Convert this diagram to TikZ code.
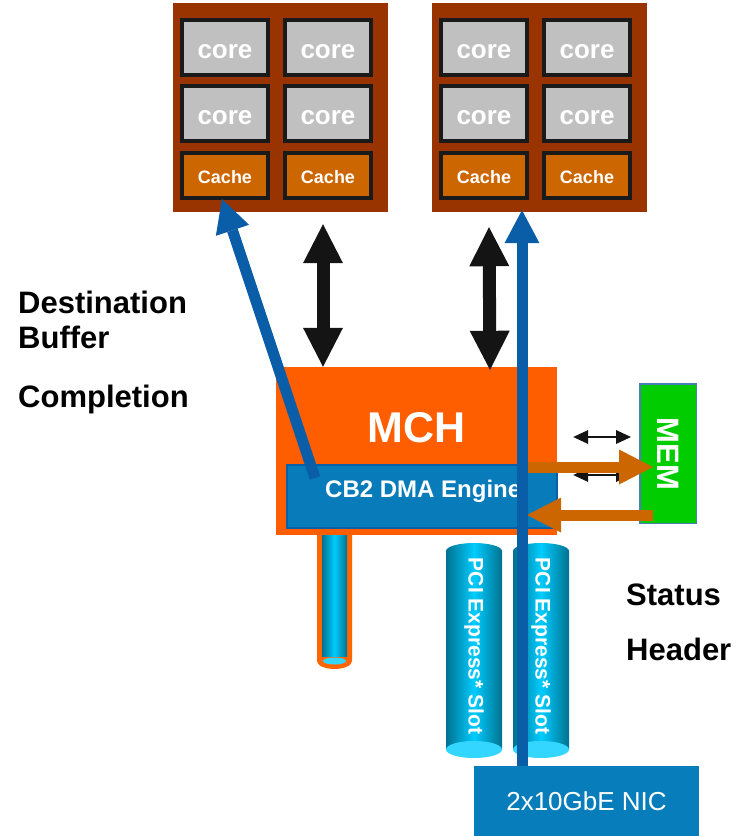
\documentclass[tikz,border=0pt]{standalone}
\usepackage{fontspec}
\setmainfont{Liberation Sans}
\usetikzlibrary{arrows.meta,calc}

\definecolor{pkgbrown}{HTML}{993300}
\definecolor{coregray}{HTML}{C0C0C0}
\definecolor{coreedge}{HTML}{1A1A1A}
\definecolor{cacheorange}{HTML}{CC6600}
\definecolor{mchorange}{HTML}{FF5E00}
\definecolor{dmablue}{HTML}{087CBA}
\definecolor{dmaedge}{HTML}{0A5FA8}
\definecolor{flowblue}{HTML}{0A5EA8}
\definecolor{memgreen}{HTML}{00CC00}
\definecolor{memedge}{HTML}{4A7EBB}
\definecolor{nicblue}{HTML}{087DBB}
\definecolor{tealdk}{HTML}{00728F}
\definecolor{cyanhi}{HTML}{00CCFF}
\definecolor{capcyan}{HTML}{33D6FF}
\definecolor{pipeorange}{HTML}{FF6600}
\definecolor{arrowblack}{HTML}{141414}

\newcommand\setfs[1]{\fontsize{#1}{#1}\selectfont}

\begin{document}
\begin{tikzpicture}[x=1pt,y=-1pt,
  pkg/.style={fill=pkgbrown, minimum width=215pt, minimum height=209pt, inner sep=0pt},
  corebox/.style={fill=coregray, draw=coreedge, line width=4pt, minimum width=86pt,
    minimum height=55pt, inner sep=0pt, text=white, font=\setfs{26}\bfseries,
    text height=21pt, text depth=0pt},
  cachebox/.style={corebox, fill=cacheorange, minimum height=45pt, font=\setfs{18}\bfseries,
    text height=16pt, text depth=0pt},
  sidelabel/.style={anchor=base west, inner sep=0pt, font=\setfs{31}\bfseries, text=black},
  slotlabel/.style={rotate=-90, inner sep=0pt, text=white, font=\setfs{21}\bfseries},
  bigdbl/.style={draw=arrowblack, line width=13pt,
    {Triangle[length=39pt,width=40pt,line width=0pt]}-{Triangle[length=39pt,width=40pt,line width=0pt]}},
  smalldbl/.style={draw=arrowblack, line width=2pt,
    {Triangle[length=15pt,width=14pt,line width=0pt]}-{Triangle[length=15pt,width=14pt,line width=0pt]}},
  bluearrow/.style={draw=flowblue, line width=11pt, -{Triangle[length=33pt,width=35pt,line width=0pt]}},
  orangearrow/.style={draw=cacheorange, line width=11pt, -{Triangle[length=34pt,width=35pt,line width=0pt]}},
  cylbody/.style={left color=tealdk, right color=tealdk, middle color=cyanhi},
]
\useasboundingbox (0,0) rectangle (739,836);

% processor packages
\node[pkg] (pkgA) at (280.5,107.5) {};
\node[pkg] (pkgB) at (539.5,107.5) {};
\foreach \p/\ca/\cb in {A/225/328, B/484/587}{
  \node[corebox] (core\p1) at (\ca,47.5) {core};
  \node[corebox] (core\p2) at (\cb,47.5) {core};
  \node[corebox] (core\p3) at (\ca,113.5) {core};
  \node[corebox] (core\p4) at (\cb,113.5) {core};
  \node[cachebox] (cache\p1) at (\ca,175.5) {Cache};
  \node[cachebox] (cache\p2) at (\cb,175.5) {Cache};
}

% short pipe below the MCH
\fill[pipeorange] (317,530) rectangle (352,661) (334.5,661) ellipse [x radius=17.5pt, y radius=8pt];
\shade[cylbody] (322,530) rectangle (347,656);
\fill[capcyan] (334.5,661) ellipse [x radius=11.5pt, y radius=3.5pt];

% PCI Express slots
\foreach \cx in {474,541}{
  \shade[cylbody] (\cx-28,551) rectangle (\cx+28,749.5) (\cx,551) ellipse [x radius=28pt, y radius=8pt];
  \fill[capcyan] (\cx,749.5) ellipse [x radius=28pt, y radius=8.5pt];
}
\node[slotlabel] (slotAtext) at (474,646) {PCI Express* Slot};
\node[slotlabel] (slotBtext) at (541,646) {PCI Express* Slot};

% memory controller hub
\node[fill=mchorange, minimum width=281pt, minimum height=168pt, inner sep=0pt] (mch) at (416.5,451) {};
\node[anchor=base, inner sep=0pt, text=white, font=\setfs{43}\bfseries] (mchlabel) at (416.5,442) {MCH};

% front-side bus links
\draw[bigdbl] ([xshift=42.5pt, yshift=-12pt]pkgA.south) -- ([xshift=-93.5pt]mch.north);
\draw[bigdbl] ([xshift=-50.5pt, yshift=-15pt]pkgB.south) -- ([xshift=73.5pt, yshift=-3pt]mch.north);

% DMA engine
\node[draw=dmaedge, line width=2pt, fill=dmablue, minimum width=270pt, minimum height=63pt, inner sep=0pt] (dma) at (422,496.5) {};
\node[anchor=base west, inner sep=0pt, text=white, font=\setfs{24}\bfseries] (dmalabel) at (325,497) {CB2 DMA Engine};

% memory
\node[draw=memedge, line width=1.5pt, fill=memgreen, minimum width=56.5pt, minimum height=139.5pt, inner sep=0pt] (mem) at (668,453.5) {};
\node[rotate=-90, inner sep=0pt, text=white, font=\setfs{31}\bfseries] (memlabel) at (668,454) {MEM};

\draw[smalldbl] ([xshift=16pt, yshift=14pt]mch.east) -- ([xshift=-8pt, yshift=16.5pt]mem.west);
\draw[smalldbl] ([xshift=16pt, yshift=-24pt]mch.east) -- ([xshift=-8pt, yshift=-21.5pt]mem.west);

\draw[orangearrow] ([xshift=-32pt, yshift=29.5pt]dma.east) -- ([xshift=14pt, yshift=-13.5pt]mem.west);
\draw[orangearrow] ([xshift=14pt, yshift=-61.5pt]mem.west) -- ([xshift=-31pt, yshift=-18.5pt]dma.east);

% network card
\node[fill=nicblue, minimum width=225pt, minimum height=70pt, inner sep=0pt, text=white, font=\setfs{26}] (nic) at (586.5,801) {2x10GbE NIC};

% data flow
\draw[bluearrow] ([xshift=-64.5pt]nic.north) -- ([xshift=-17.5pt, yshift=2pt]pkgB.south);
\draw[bluearrow] ([xshift=29pt, yshift=-14pt]dma.north west) -- ([xshift=-3pt, yshift=1pt]cacheA1.south);

% side captions
\node[sidelabel] (lblDest) at (18,313) {Destination};
\node[sidelabel] (lblBuf) at (18,348) {Buffer};
\node[sidelabel] (lblComp) at (18,407) {Completion};
\node[sidelabel] (lblStatus) at (626,605) {Status};
\node[sidelabel] (lblHeader) at (626,660) {Header};
\end{tikzpicture}
\end{document}
